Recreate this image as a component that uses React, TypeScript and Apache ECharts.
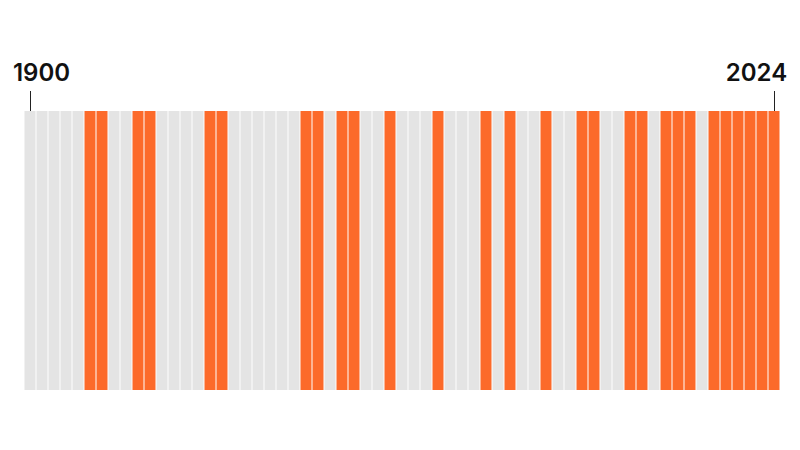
import React, { useEffect, useRef } from "react";
import * as echarts from "echarts";

// Years shown (every two years, 1900–2024)
const years: string[] = [
  "1900","1902","1904","1906","1908","1910","1912","1914","1916","1918",
  "1920","1922","1924","1926","1928","1930","1932","1934","1936","1938",
  "1940","1942","1944","1946","1948","1950","1952","1954","1956","1958",
  "1960","1962","1964","1966","1968","1970","1972","1974","1976","1978",
  "1980","1982","1984","1986","1988","1990","1992","1994","1996","1998",
  "2000","2002","2004","2006","2008","2010","2012","2014","2016","2018",
  "2020","2022","2024",
];

// Years highlighted in orange
const highlightedYears: string[] = [
  "1910","1912","1918","1920","1930","1932","1946","1948","1952","1954",
  "1960","1968","1976","1980","1986","1992","1994","2000","2002","2006",
  "2008","2010","2014","2016","2018","2020","2022","2024",
];

// Tick labels shown on the axis
const tickLabels: string[] = ["1900", "2024"];

const ORANGE = "#FC6A2A";
const GREY = "#E4E4E4";

export default function App() {
  const ref = useRef<HTMLDivElement>(null);

  useEffect(() => {
    if (!ref.current) return;
    const chart = echarts.init(ref.current, null, { renderer: "svg" });
    const hl = new Set(highlightedYears);
    const data = years.map((y) => ({
      value: 1,
      itemStyle: { color: hl.has(y) ? ORANGE : GREY },
    }));
    const firstLabel = tickLabels[0];
    const lastLabel = tickLabels[tickLabels.length - 1];
    const every = years.length - 2;

    chart.setOption({
      animation: false,
      backgroundColor: "#ffffff",
      grid: { left: 24, top: 111, width: 756, height: 279, containLabel: false },
      xAxis: {
        type: "category",
        data: years,
        position: "top",
        axisLine: { show: false },
        axisTick: { show: false },
        axisLabel: {
          show: true,
          interval: every,
          margin: 27,
          formatter: (v: string) =>
            v === firstLabel ? `{a|${v}}` : v === lastLabel ? `{b|${v}}` : "",
          rich: {
            a: {
              fontFamily: "Inter",
              fontSize: 24,
              fontWeight: 600,
              color: "#111111",
              padding: [0, 0, 0, 23],
            },
            b: {
              fontFamily: "Inter",
              fontSize: 24,
              fontWeight: 600,
              color: "#111111",
              padding: [0, 35, 0, 0],
            },
          },
        },
        splitLine: { show: false },
      },
      yAxis: {
        type: "value",
        min: 0,
        max: 1,
        show: false,
      },
      series: [
        {
          type: "bar",
          data,
          barWidth: 11,
          silent: true,
        },
        {
          type: "custom",
          silent: true,
          clip: false,
          data: tickLabels.map((y) => [y, 1]),
          renderItem: (params: any, api: any) => {
            const p = api.coord([api.value(0), api.value(1)]);
            const x = Math.round(p[0]) + 0.5;
            return {
              type: "line",
              shape: { x1: x, y1: p[1] - 20, x2: x, y2: p[1] },
              style: { stroke: "#222222", lineWidth: 1 },
            };
          },
        },
      ],
    });
    return () => chart.dispose();
  }, []);

  return (
    <div
      ref={ref}
      style={{ position: "fixed", left: 0, top: 0, width: 800, height: 450, background: "#fff" }}
    />
  );
}
